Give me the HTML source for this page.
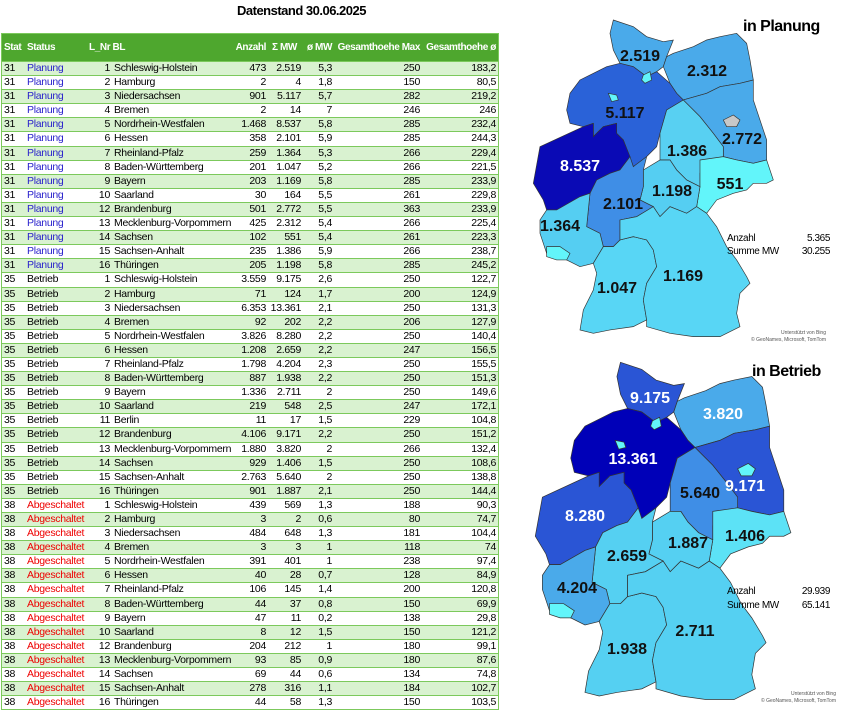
<!DOCTYPE html>
<html><head><meta charset="utf-8"><style>
*{margin:0;padding:0;box-sizing:border-box}
body{width:858px;height:718px;background:#fff;font-family:"Liberation Sans",Arial,sans-serif;position:relative;overflow:hidden}
.title{position:absolute;left:237px;top:3px;font-size:13px;font-weight:bold;letter-spacing:-0.5px}
.tbl{position:absolute;left:1px;top:33px;width:498px;height:677px;border:1px solid #7cc95c;display:flex;flex-direction:column}
.hd{height:27px;background:#4ea72e;color:#fff;font-weight:bold;position:relative;font-size:10px;letter-spacing:-0.4px}
.hd span{position:absolute;top:8px}
.rows{flex:1;display:flex;flex-direction:column}
.r{flex:1;position:relative;border-top:1px solid #7cc95c;font-size:10.5px;letter-spacing:-0.3px}
.r:nth-child(odd){background:#d9f2d0}
.r span{position:absolute;top:0px;white-space:nowrap;line-height:13px}
.a{left:2px}.b{left:25px}.c{right:388px}.d{left:112px}.e{right:232px}.f{right:197px}.g{right:166px}.h{right:78px}.i{right:2px}
.p .b{color:#2a22cc}.x .b{color:#e00}
svg text{font-family:"Liberation Sans",Arial,sans-serif}
</style></head><body>
<div class="title">Datenstand 30.06.2025</div>
<div class="tbl">
<div class="hd"><span style="left:2px">Stat</span><span style="left:25px">Status</span><span style="left:87px">L_Nr BL</span><span style="right:232px">Anzahl</span><span style="left:270px">Σ MW</span><span style="right:166px">ø MW</span><span style="right:78px">Gesamthoehe Max</span><span style="right:2px">Gesamthoehe ø</span></div>
<div class="rows">
<div class="r p"><span class="a">31</span><span class="b">Planung</span><span class="c">1</span><span class="d">Schleswig-Holstein</span><span class="e">473</span><span class="f">2.519</span><span class="g">5,3</span><span class="h">250</span><span class="i">183,2</span></div>
<div class="r p"><span class="a">31</span><span class="b">Planung</span><span class="c">2</span><span class="d">Hamburg</span><span class="e">2</span><span class="f">4</span><span class="g">1,8</span><span class="h">150</span><span class="i">80,5</span></div>
<div class="r p"><span class="a">31</span><span class="b">Planung</span><span class="c">3</span><span class="d">Niedersachsen</span><span class="e">901</span><span class="f">5.117</span><span class="g">5,7</span><span class="h">282</span><span class="i">219,2</span></div>
<div class="r p"><span class="a">31</span><span class="b">Planung</span><span class="c">4</span><span class="d">Bremen</span><span class="e">2</span><span class="f">14</span><span class="g">7</span><span class="h">246</span><span class="i">246</span></div>
<div class="r p"><span class="a">31</span><span class="b">Planung</span><span class="c">5</span><span class="d">Nordrhein-Westfalen</span><span class="e">1.468</span><span class="f">8.537</span><span class="g">5,8</span><span class="h">285</span><span class="i">232,4</span></div>
<div class="r p"><span class="a">31</span><span class="b">Planung</span><span class="c">6</span><span class="d">Hessen</span><span class="e">358</span><span class="f">2.101</span><span class="g">5,9</span><span class="h">285</span><span class="i">244,3</span></div>
<div class="r p"><span class="a">31</span><span class="b">Planung</span><span class="c">7</span><span class="d">Rheinland-Pfalz</span><span class="e">259</span><span class="f">1.364</span><span class="g">5,3</span><span class="h">266</span><span class="i">229,4</span></div>
<div class="r p"><span class="a">31</span><span class="b">Planung</span><span class="c">8</span><span class="d">Baden-Württemberg</span><span class="e">201</span><span class="f">1.047</span><span class="g">5,2</span><span class="h">266</span><span class="i">221,5</span></div>
<div class="r p"><span class="a">31</span><span class="b">Planung</span><span class="c">9</span><span class="d">Bayern</span><span class="e">203</span><span class="f">1.169</span><span class="g">5,8</span><span class="h">285</span><span class="i">233,9</span></div>
<div class="r p"><span class="a">31</span><span class="b">Planung</span><span class="c">10</span><span class="d">Saarland</span><span class="e">30</span><span class="f">164</span><span class="g">5,5</span><span class="h">261</span><span class="i">229,8</span></div>
<div class="r p"><span class="a">31</span><span class="b">Planung</span><span class="c">12</span><span class="d">Brandenburg</span><span class="e">501</span><span class="f">2.772</span><span class="g">5,5</span><span class="h">363</span><span class="i">233,9</span></div>
<div class="r p"><span class="a">31</span><span class="b">Planung</span><span class="c">13</span><span class="d">Mecklenburg-Vorpommern</span><span class="e">425</span><span class="f">2.312</span><span class="g">5,4</span><span class="h">266</span><span class="i">225,4</span></div>
<div class="r p"><span class="a">31</span><span class="b">Planung</span><span class="c">14</span><span class="d">Sachsen</span><span class="e">102</span><span class="f">551</span><span class="g">5,4</span><span class="h">261</span><span class="i">223,3</span></div>
<div class="r p"><span class="a">31</span><span class="b">Planung</span><span class="c">15</span><span class="d">Sachsen-Anhalt</span><span class="e">235</span><span class="f">1.386</span><span class="g">5,9</span><span class="h">266</span><span class="i">238,7</span></div>
<div class="r p"><span class="a">31</span><span class="b">Planung</span><span class="c">16</span><span class="d">Thüringen</span><span class="e">205</span><span class="f">1.198</span><span class="g">5,8</span><span class="h">285</span><span class="i">245,2</span></div>
<div class="r"><span class="a">35</span><span class="b">Betrieb</span><span class="c">1</span><span class="d">Schleswig-Holstein</span><span class="e">3.559</span><span class="f">9.175</span><span class="g">2,6</span><span class="h">250</span><span class="i">122,7</span></div>
<div class="r"><span class="a">35</span><span class="b">Betrieb</span><span class="c">2</span><span class="d">Hamburg</span><span class="e">71</span><span class="f">124</span><span class="g">1,7</span><span class="h">200</span><span class="i">124,9</span></div>
<div class="r"><span class="a">35</span><span class="b">Betrieb</span><span class="c">3</span><span class="d">Niedersachsen</span><span class="e">6.353</span><span class="f">13.361</span><span class="g">2,1</span><span class="h">250</span><span class="i">131,3</span></div>
<div class="r"><span class="a">35</span><span class="b">Betrieb</span><span class="c">4</span><span class="d">Bremen</span><span class="e">92</span><span class="f">202</span><span class="g">2,2</span><span class="h">206</span><span class="i">127,9</span></div>
<div class="r"><span class="a">35</span><span class="b">Betrieb</span><span class="c">5</span><span class="d">Nordrhein-Westfalen</span><span class="e">3.826</span><span class="f">8.280</span><span class="g">2,2</span><span class="h">250</span><span class="i">140,4</span></div>
<div class="r"><span class="a">35</span><span class="b">Betrieb</span><span class="c">6</span><span class="d">Hessen</span><span class="e">1.208</span><span class="f">2.659</span><span class="g">2,2</span><span class="h">247</span><span class="i">156,5</span></div>
<div class="r"><span class="a">35</span><span class="b">Betrieb</span><span class="c">7</span><span class="d">Rheinland-Pfalz</span><span class="e">1.798</span><span class="f">4.204</span><span class="g">2,3</span><span class="h">250</span><span class="i">155,5</span></div>
<div class="r"><span class="a">35</span><span class="b">Betrieb</span><span class="c">8</span><span class="d">Baden-Württemberg</span><span class="e">887</span><span class="f">1.938</span><span class="g">2,2</span><span class="h">250</span><span class="i">151,3</span></div>
<div class="r"><span class="a">35</span><span class="b">Betrieb</span><span class="c">9</span><span class="d">Bayern</span><span class="e">1.336</span><span class="f">2.711</span><span class="g">2</span><span class="h">250</span><span class="i">149,6</span></div>
<div class="r"><span class="a">35</span><span class="b">Betrieb</span><span class="c">10</span><span class="d">Saarland</span><span class="e">219</span><span class="f">548</span><span class="g">2,5</span><span class="h">247</span><span class="i">172,1</span></div>
<div class="r"><span class="a">35</span><span class="b">Betrieb</span><span class="c">11</span><span class="d">Berlin</span><span class="e">11</span><span class="f">17</span><span class="g">1,5</span><span class="h">229</span><span class="i">104,8</span></div>
<div class="r"><span class="a">35</span><span class="b">Betrieb</span><span class="c">12</span><span class="d">Brandenburg</span><span class="e">4.106</span><span class="f">9.171</span><span class="g">2,2</span><span class="h">250</span><span class="i">151,2</span></div>
<div class="r"><span class="a">35</span><span class="b">Betrieb</span><span class="c">13</span><span class="d">Mecklenburg-Vorpommern</span><span class="e">1.880</span><span class="f">3.820</span><span class="g">2</span><span class="h">266</span><span class="i">132,4</span></div>
<div class="r"><span class="a">35</span><span class="b">Betrieb</span><span class="c">14</span><span class="d">Sachsen</span><span class="e">929</span><span class="f">1.406</span><span class="g">1,5</span><span class="h">250</span><span class="i">108,6</span></div>
<div class="r"><span class="a">35</span><span class="b">Betrieb</span><span class="c">15</span><span class="d">Sachsen-Anhalt</span><span class="e">2.763</span><span class="f">5.640</span><span class="g">2</span><span class="h">250</span><span class="i">138,8</span></div>
<div class="r"><span class="a">35</span><span class="b">Betrieb</span><span class="c">16</span><span class="d">Thüringen</span><span class="e">901</span><span class="f">1.887</span><span class="g">2,1</span><span class="h">250</span><span class="i">144,4</span></div>
<div class="r x"><span class="a">38</span><span class="b">Abgeschaltet</span><span class="c">1</span><span class="d">Schleswig-Holstein</span><span class="e">439</span><span class="f">569</span><span class="g">1,3</span><span class="h">188</span><span class="i">90,3</span></div>
<div class="r x"><span class="a">38</span><span class="b">Abgeschaltet</span><span class="c">2</span><span class="d">Hamburg</span><span class="e">3</span><span class="f">2</span><span class="g">0,6</span><span class="h">80</span><span class="i">74,7</span></div>
<div class="r x"><span class="a">38</span><span class="b">Abgeschaltet</span><span class="c">3</span><span class="d">Niedersachsen</span><span class="e">484</span><span class="f">648</span><span class="g">1,3</span><span class="h">181</span><span class="i">104,4</span></div>
<div class="r x"><span class="a">38</span><span class="b">Abgeschaltet</span><span class="c">4</span><span class="d">Bremen</span><span class="e">3</span><span class="f">3</span><span class="g">1</span><span class="h">118</span><span class="i">74</span></div>
<div class="r x"><span class="a">38</span><span class="b">Abgeschaltet</span><span class="c">5</span><span class="d">Nordrhein-Westfalen</span><span class="e">391</span><span class="f">401</span><span class="g">1</span><span class="h">238</span><span class="i">97,4</span></div>
<div class="r x"><span class="a">38</span><span class="b">Abgeschaltet</span><span class="c">6</span><span class="d">Hessen</span><span class="e">40</span><span class="f">28</span><span class="g">0,7</span><span class="h">128</span><span class="i">84,9</span></div>
<div class="r x"><span class="a">38</span><span class="b">Abgeschaltet</span><span class="c">7</span><span class="d">Rheinland-Pfalz</span><span class="e">106</span><span class="f">145</span><span class="g">1,4</span><span class="h">200</span><span class="i">120,8</span></div>
<div class="r x"><span class="a">38</span><span class="b">Abgeschaltet</span><span class="c">8</span><span class="d">Baden-Württemberg</span><span class="e">44</span><span class="f">37</span><span class="g">0,8</span><span class="h">150</span><span class="i">69,9</span></div>
<div class="r x"><span class="a">38</span><span class="b">Abgeschaltet</span><span class="c">9</span><span class="d">Bayern</span><span class="e">47</span><span class="f">11</span><span class="g">0,2</span><span class="h">138</span><span class="i">29,8</span></div>
<div class="r x"><span class="a">38</span><span class="b">Abgeschaltet</span><span class="c">10</span><span class="d">Saarland</span><span class="e">8</span><span class="f">12</span><span class="g">1,5</span><span class="h">150</span><span class="i">121,2</span></div>
<div class="r x"><span class="a">38</span><span class="b">Abgeschaltet</span><span class="c">12</span><span class="d">Brandenburg</span><span class="e">204</span><span class="f">212</span><span class="g">1</span><span class="h">180</span><span class="i">99,1</span></div>
<div class="r x"><span class="a">38</span><span class="b">Abgeschaltet</span><span class="c">13</span><span class="d">Mecklenburg-Vorpommern</span><span class="e">93</span><span class="f">85</span><span class="g">0,9</span><span class="h">180</span><span class="i">87,6</span></div>
<div class="r x"><span class="a">38</span><span class="b">Abgeschaltet</span><span class="c">14</span><span class="d">Sachsen</span><span class="e">69</span><span class="f">44</span><span class="g">0,6</span><span class="h">134</span><span class="i">74,8</span></div>
<div class="r x"><span class="a">38</span><span class="b">Abgeschaltet</span><span class="c">15</span><span class="d">Sachsen-Anhalt</span><span class="e">278</span><span class="f">316</span><span class="g">1,1</span><span class="h">184</span><span class="i">102,7</span></div>
<div class="r x"><span class="a">38</span><span class="b">Abgeschaltet</span><span class="c">16</span><span class="d">Thüringen</span><span class="e">44</span><span class="f">58</span><span class="g">1,3</span><span class="h">150</span><span class="i">103,5</span></div>
</div></div>

<svg width="858" height="718" style="position:absolute;left:0;top:0" xmlns="http://www.w3.org/2000/svg">
<defs>
<g id="SH"><polygon points="280,60 340,80 380,110 430,125 460,120 440,170 430,200 410,215 380,230 340,200 300,190 280,150 270,100"/></g>
<g id="MV"><polygon points="430,200 440,170 460,160 520,140 560,120 600,110 650,100 680,130 690,180 700,240 660,250 600,260 560,280 490,300 470,280 450,250"/></g>
<g id="NI"><polygon points="260,200 300,190 340,200 380,230 410,215 450,250 470,280 490,300 440,330 420,400 410,440 380,470 340,500 310,420 290,400 290,370 250,380 220,410 220,370 190,380 150,370 140,330 150,280 180,240 230,215"/></g>
<g id="NW"><polygon points="60,440 190,380 220,370 220,410 250,380 290,370 290,400 310,420 330,470 300,510 270,520 230,540 210,580 180,590 110,630 80,630 70,600 40,550"/></g>
<g id="BB"><polygon points="490,300 560,280 600,260 660,250 700,240 700,300 720,360 740,420 740,480 700,490 650,480 610,470 610,440 580,400 540,350 510,320"/></g>
<g id="ST"><polygon points="440,330 490,300 510,320 540,350 580,400 610,440 610,470 560,480 540,520 540,560 500,540 470,510 450,480 420,480 420,400"/></g>
<g id="SN"><polygon points="540,480 610,470 650,480 700,490 740,480 760,540 740,550 700,550 680,570 640,580 590,600 560,640 530,620 540,560"/></g>
<g id="TH"><polygon points="370,510 420,480 450,480 470,510 500,540 540,560 530,620 500,640 450,620 420,650 400,620 360,600 370,560"/></g>
<g id="HE"><polygon points="300,510 330,470 340,500 380,470 370,510 370,560 360,600 400,620 350,650 300,660 300,720 280,740 250,740 240,700 200,680 210,580 230,540 270,520"/></g>
<g id="RP"><polygon points="80,630 110,630 180,590 210,580 200,680 240,700 250,740 220,790 180,800 140,780 80,760 60,700 60,660"/></g>
<g id="SL"><polygon points="80,740 120,740 150,760 140,780 110,780 80,770"/></g>
<g id="BW"><polygon points="250,740 280,740 300,720 340,710 380,720 400,750 410,800 380,850 370,900 380,960 340,980 270,990 220,1000 180,990 190,930 220,870 230,820 220,790"/></g>
<g id="BY"><polygon points="300,720 300,660 350,650 400,620 420,650 450,620 500,640 530,620 560,640 590,680 600,700 620,740 650,780 680,830 690,850 660,880 650,940 660,980 600,1010 520,1010 450,1000 380,980 380,960 370,900 380,850 410,800 400,750 380,720 340,710"/></g>
<g id="HH"><polygon points="370,225 390,215 395,240 375,250 365,240"/></g>
<g id="HB"><polygon points="265,280 290,285 295,300 275,305"/></g>
<g id="BE"><polygon points="610,360 640,345 660,360 650,380 620,380"/></g>
</defs>
<g transform="translate(520,0) scale(0.3333)" stroke="#333" stroke-width="2">
<use href="#SH" fill="#4aaaea"/><use href="#MV" fill="#4aaaea"/><use href="#NI" fill="#2a62d8"/><use href="#NW" fill="#0a0ab5"/><use href="#BB" fill="#4aaaea"/><use href="#ST" fill="#58d0f2"/><use href="#SN" fill="#62f5fa"/><use href="#TH" fill="#55cef2"/><use href="#HE" fill="#3f8ee6"/><use href="#RP" fill="#55cef2"/><use href="#SL" fill="#62f5fa"/><use href="#BW" fill="#58d6f5"/><use href="#BY" fill="#58d6f5"/><use href="#HH" fill="#62f5fa"/><use href="#HB" fill="#62f5fa"/><use href="#BE" fill="#c8c8c8"/>
</g>
<g transform="translate(-32.7,341) scale(1.065) translate(520,0) scale(0.3333)" stroke="#333" stroke-width="2">
<use href="#SH" fill="#2a55d5"/><use href="#MV" fill="#4aaaea"/><use href="#NI" fill="#0000b8"/><use href="#NW" fill="#2a55d5"/><use href="#BB" fill="#2a55d5"/><use href="#ST" fill="#3f8ee6"/><use href="#SN" fill="#5ce2f6"/><use href="#TH" fill="#55d0f2"/><use href="#HE" fill="#55d0f2"/><use href="#RP" fill="#4aaaea"/><use href="#SL" fill="#62f5fa"/><use href="#BW" fill="#55d0f2"/><use href="#BY" fill="#55d0f2"/><use href="#HH" fill="#62f5fa"/><use href="#HB" fill="#62f5fa"/><use href="#BE" fill="#62f5fa"/>
</g>
<g font-size="16" font-weight="bold" text-anchor="middle" fill="#111">
<text x="640" y="61">2.519</text><text x="707" y="76">2.312</text><text x="625" y="118">5.117</text><text x="580" y="171" fill="#fff">8.537</text><text x="687" y="156">1.386</text><text x="742" y="144">2.772</text><text x="730" y="189">551</text><text x="672" y="196">1.198</text><text x="623" y="209">2.101</text><text x="560" y="231">1.364</text><text x="683" y="281">1.169</text><text x="617" y="293">1.047</text>
<text x="650" y="403" fill="#fff">9.175</text><text x="723" y="419" fill="#fff">3.820</text><text x="633" y="464" fill="#fff">13.361</text><text x="745" y="491" fill="#fff">9.171</text><text x="585" y="521" fill="#fff">8.280</text><text x="700" y="498">5.640</text><text x="688" y="548">1.887</text><text x="745" y="541">1.406</text><text x="627" y="561">2.659</text><text x="577" y="593">4.204</text><text x="695" y="636">2.711</text><text x="627" y="654">1.938</text>
</g>
<g font-size="16" font-weight="bold" fill="#000" letter-spacing="-0.5">
<text x="743" y="31">in Planung</text><text x="752" y="376">in Betrieb</text>
</g>
<g font-size="10" fill="#000" letter-spacing="-0.4">
<text x="727" y="241">Anzahl</text><text x="830" y="241" text-anchor="end">5.365</text>
<text x="727" y="254">Summe MW</text><text x="830" y="254" text-anchor="end">30.255</text>
<text x="727" y="594">Anzahl</text><text x="830" y="594" text-anchor="end">29.939</text>
<text x="727" y="608">Summe MW</text><text x="830" y="608" text-anchor="end">65.141</text>
</g>
<g font-size="5" fill="#555" text-anchor="end">
<text x="826" y="334">Unterstützt von Bing</text><text x="826" y="341">© GeoNames, Microsoft, TomTom</text>
<text x="836" y="695">Unterstützt von Bing</text><text x="836" y="702">© GeoNames, Microsoft, TomTom</text>
</g>
</svg>
</body></html>
